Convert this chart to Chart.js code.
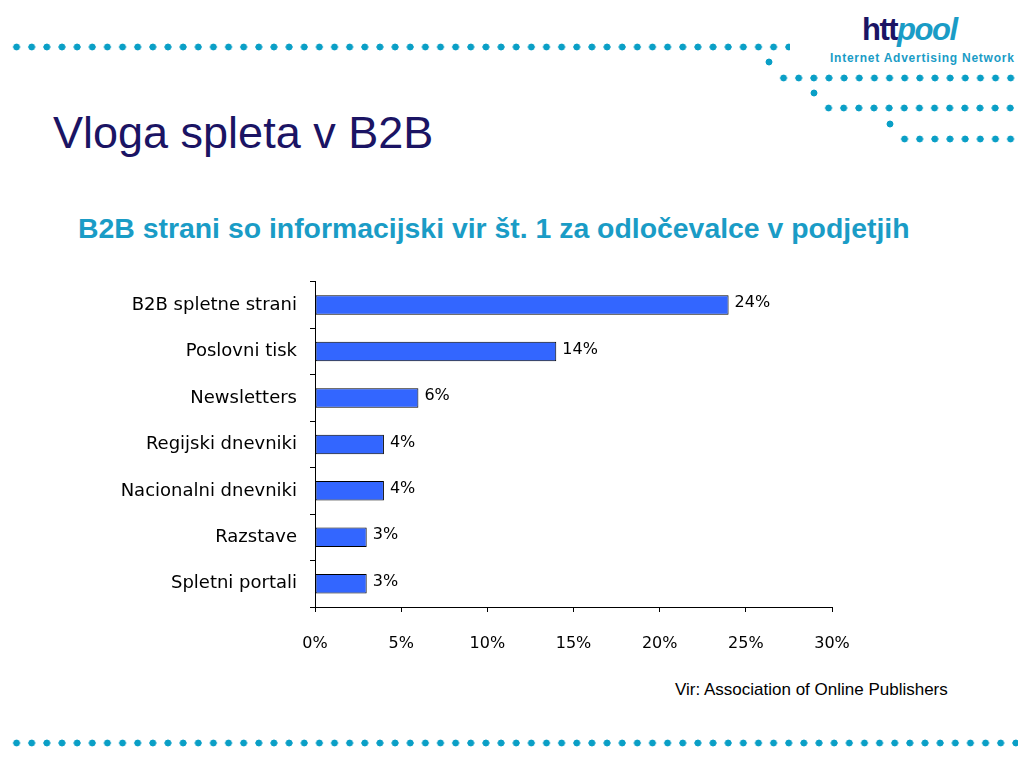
<!DOCTYPE html>
<html>
<head>
<meta charset="utf-8">
<script src="https://cdn.jsdelivr.net/npm/chart.js@4.4.1/dist/chart.umd.min.js"></script>
<style>
  html, body { margin: 0; padding: 0; background: #fff; }
  body { width: 1024px; height: 768px; position: relative; overflow: hidden; font-family: "Liberation Sans", Arial, sans-serif; }
  .dots { position: absolute; height: 8px;
    background-image: radial-gradient(circle, #0a9fc6 3.2px, transparent 3.7px);
    background-size: 15.15px 8px; background-repeat: repeat-x; background-position: 0 0; }
  .dot1 { position: absolute; width: 8px; height: 8px;
    background-image: radial-gradient(circle, #0a9fc6 3.2px, transparent 3.7px); }
  #title { position: absolute; left: 53px; top: 110px; font-size: 45px; line-height: 1; color: #1b1464; white-space: nowrap; }
  #subtitle { position: absolute; left: 78px; top: 214px; font-size: 28.4px; line-height: 1; font-weight: bold; color: #1a9cc6; white-space: nowrap; }
  #source { position: absolute; left: 675px; top: 681px; font-size: 17px; line-height: 1; color: #000; white-space: nowrap; }
  #logo { position: absolute; left: 862px; top: 12px; font-size: 31px; font-weight: bold; letter-spacing: -1.5px; }
  #logo .a { color: #1b1464; }
  #logo .b { color: #1a9cc6; font-style: italic; }
  #tag { position: absolute; left: 830px; top: 51px; font-size: 12px; font-weight: bold; color: #1a9cc6; letter-spacing: 0.75px; white-space: nowrap; }
  #wrap { position: absolute; left: 0; top: 258px; width: 880px; height: 412px; }
</style>
</head>
<body>
<div class="dots" style="left:9px; top:43px; width:781px;"></div>
<div class="dot1" style="left:765px; top:58px;"></div>
<div class="dots" style="left:776px; top:74px; width:244px;"></div>
<div class="dot1" style="left:810px; top:89px;"></div>
<div class="dots" style="left:821px; top:104px; width:199px;"></div>
<div class="dot1" style="left:886px; top:120px;"></div>
<div class="dots" style="left:897px; top:135px; width:123px;"></div>
<div class="dots" style="left:9px; top:739px; width:1009px;"></div>

<div id="logo"><span class="a">htt</span><span class="b">pool</span></div>
<div id="tag">Internet Advertising Network</div>
<div id="title">Vloga spleta v B2B</div>
<div id="subtitle">B2B strani so informacijski vir št. 1 za odločevalce v podjetjih</div>
<div id="source">Vir: Association of Online Publishers</div>

<div id="wrap"><canvas id="myChart"></canvas></div>

<script>
const categories = ['B2B spletne strani', 'Poslovni tisk', 'Newsletters', 'Regijski dnevniki', 'Nacionalni dnevniki', 'Razstave', 'Spletni portali'];
const values = [24, 14, 6, 4, 4, 3, 3];
const tickValues = [0, 5, 10, 15, 20, 25, 30];

// labels at the end of each bar
const barLabels = {
  id: 'barLabels',
  afterDatasetsDraw(chart) {
    const c = chart.ctx;
    const meta = chart.getDatasetMeta(0);
    c.save();
    c.font = '16px "DejaVu Sans"';
    c.fillStyle = '#000';
    c.textAlign = 'left';
    c.textBaseline = 'middle';
    meta.data.forEach(function (bar, i) {
      c.fillText(values[i] + '%', bar.x + 6, bar.y - 2);
    });
    c.restore();
  }
};

const ctx = document.getElementById('myChart');
new Chart(ctx, {
  type: 'bar',
  data: {
    labels: categories,
    datasets: [{
      data: values,
      backgroundColor: '#3366ff',
      borderColor: '#000',
      borderWidth: 1,
      borderSkipped: false,
      categoryPercentage: 1,
      barPercentage: 0.42
    }]
  },
  options: {
    indexAxis: 'y',
    responsive: true,
    maintainAspectRatio: false,
    animation: false,
    layout: { padding: { top: 0, right: 48, left: 0, bottom: 0 } },
    plugins: { legend: { display: false }, tooltip: { enabled: false } },
    scales: {
      x: {
        min: 0,
        max: 30,
        afterBuildTicks(axis) { axis.ticks = tickValues.map(v => ({ value: v })); },
        afterFit(axis) { axis.height = 63; },
        grid: { drawOnChartArea: false, tickLength: 5, color: '#000', tickColor: '#000' },
        border: { color: '#000', width: 1 },
        ticks: {
          padding: 22,
          color: '#000',
          font: { family: 'DejaVu Sans', size: 16 },
          callback: v => v + '%'
        }
      },
      y: {
        afterFit(axis) { axis.width = 315; },
        grid: { drawOnChartArea: false, tickLength: 5, color: '#000', tickColor: '#000', offset: true },
        border: { color: '#000', width: 1 },
        ticks: {
          padding: 13,
          color: '#000',
          font: { family: 'DejaVu Sans', size: 18 }
        }
      }
    }
  },
  plugins: [barLabels]
});
</script>
</body>
</html>
